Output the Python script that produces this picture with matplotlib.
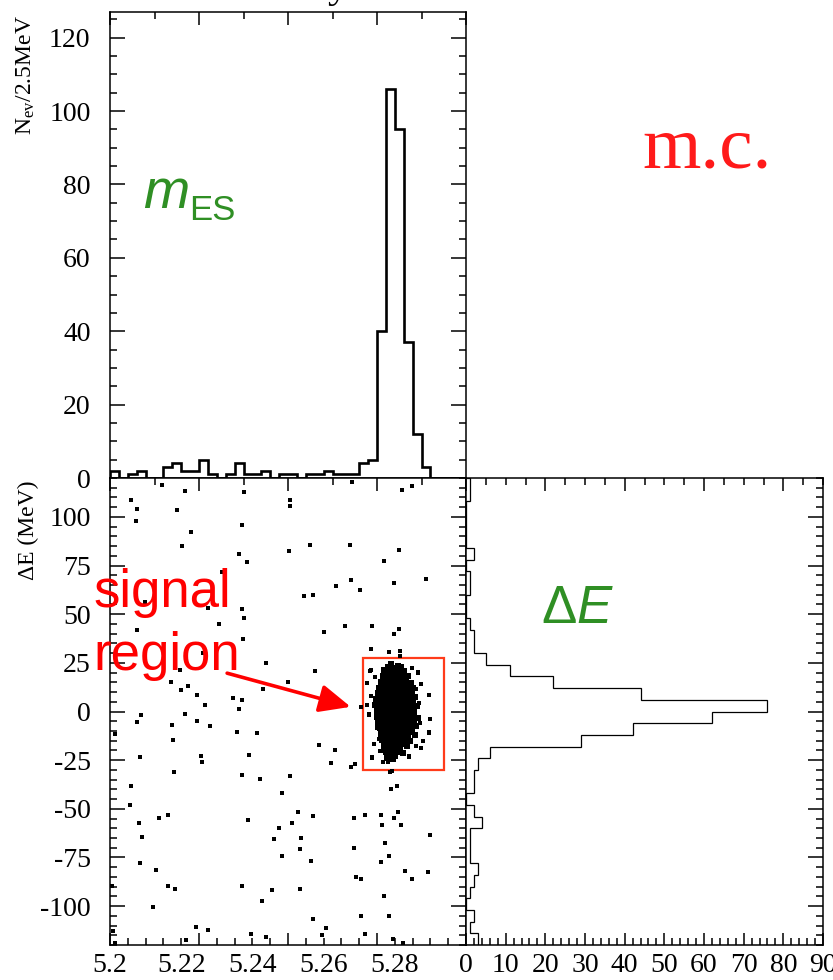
import numpy as np
import matplotlib.pyplot as plt
from matplotlib.ticker import MultipleLocator, FuncFormatter, NullFormatter
from matplotlib.patches import Rectangle

plt.rcParams['font.family'] = ['Liberation Serif', 'DejaVu Serif']
plt.rcParams['axes.unicode_minus'] = False
plt.rcParams['mathtext.fontset'] = 'custom'
plt.rcParams['mathtext.rm'] = 'Liberation Serif'
plt.rcParams['mathtext.sf'] = 'Liberation Sans'
plt.rcParams['mathtext.it'] = 'Liberation Sans:italic'

# mES histogram, 40 bins of 2.5 MeV from 5.20 to 5.30 GeV
mes_edges = np.linspace(5.2, 5.3, 41)
mes_counts = [2, 0, 1, 2, 0, 0, 3, 4, 2, 2, 5, 1, 0, 1, 4, 1, 1, 2, 0, 1,
              1, 0, 1, 1, 2, 1, 1, 1, 4, 5, 40, 106, 95, 37, 12, 3, 0, 0, 0, 0]

# Delta E histogram, 40 bins of 6 MeV from -120 to 120 MeV (bottom to top)
de_edges = np.linspace(-120, 120, 41)
de_counts = [3, 1, 2, 0, 1, 2, 3, 1, 1, 1, 4, 2, 0, 2, 2, 3, 6, 29, 42, 62,
             76, 44, 22, 11, 5, 2, 2, 1, 0, 0, 1, 1, 0, 2, 0, 0, 0, 0, 1, 1]

# scattered (background) events: mES (GeV), Delta E (MeV)
bkg_mes = [5.2147, 5.2212, 5.2377, 5.2681, 5.2847, 5.2819, 5.2058, 5.2077, 5.2187, 5.2507,
           5.2507, 5.2072, 5.2370, 5.2228, 5.2203, 5.2502, 5.2561, 5.2674, 5.2363, 5.2384,
           5.2812, 5.2771, 5.2889, 5.2676, 5.2634, 5.2701, 5.2799, 5.2544, 5.2571, 5.2315,
           5.2098, 5.2274, 5.2370, 5.2377, 5.2305, 5.2077, 5.2661, 5.2735, 5.2602, 5.2797,
           5.2813, 5.2374, 5.2733, 5.2785, 5.2814, 5.2814, 5.2438, 5.2576, 5.2731, 5.2262,
           5.2198, 5.2171, 5.2220, 5.2199, 5.2501, 5.2431, 5.2244, 5.2346, 5.2370, 5.2266,
           5.2706, 5.2722, 5.2727, 5.2087, 5.2211, 5.2362, 5.2075, 5.2175, 5.2245, 5.2280,
           5.2015, 5.2358, 5.2413, 5.2178, 5.2587, 5.2631, 5.2084, 5.2255, 5.2258, 5.2391,
           5.2621, 5.2677, 5.2689, 5.2179, 5.2372, 5.2420, 5.2507, 5.2786, 5.2058, 5.2790,
           5.2806, 5.2482, 5.2056, 5.2137, 5.2164, 5.2081, 5.2389, 5.2528, 5.2569, 5.2685,
           5.2715, 5.2760, 5.2797, 5.2810, 5.2817, 5.2765, 5.2511, 5.2476, 5.2462, 5.2536,
           5.2900, 5.2091, 5.2685, 5.2534, 5.2482, 5.2773, 5.2783, 5.2084, 5.2129, 5.2565,
           5.2761, 5.2162, 5.2182, 5.2370, 5.2456, 5.2533, 5.2692, 5.2706, 5.2828, 5.2847,
           5.2893, 5.2427, 5.2771, 5.2120, 5.2006, 5.2706, 5.2785, 5.2571, 5.2608, 5.2241,
           5.2276, 5.2395, 5.2438, 5.2596, 5.2715, 5.2796, 5.2823, 5.2008, 5.2013, 5.2213,
           5.2737, 5.2766, 5.2780, 5.2759, 5.2839, 5.2874, 5.2897, 5.2900, 5.2897, 5.2866,
           5.2847, 5.2732, 5.2721, 5.2792]
bkg_de = [116.3, 113.4, 112.7, 118.2, 115.8, 113.7, 108.6, 104.1, 103.3, 108.6,
          105.5, 97.8, 95.7, 92.1, 85.1, 82.5, 85.4, 85.8, 80.8, 76.9,
          83.0, 77.2, 68.2, 67.5, 64.6, 62.3, 66.1, 59.4, 60.1, 71.9,
          56.3, 53.3, 52.6, 48.1, 45.2, 41.8, 44.0, 44.0, 40.8, 39.9,
          42.3, 37.3, 32.2, 30.7, 31.0, 28.6, 25.0, 20.7, 20.9, 30.1,
          21.4, 15.2, 13.2, 11.0, 15.2, 11.8, 8.6, 7.0, 5.7, 3.3,
          2.1, 3.4, -1.7, -1.7, -1.2, 1.2, -5.5, -6.7, -5.1, -7.5,
          -11.6, -10.6, -11.1, -14.6, -17.1, -19.7, -23.6, -22.8, -26.2, -22.6,
          -26.5, -28.3, -27.1, -31.2, -32.7, -34.6, -33.0, -31.3, -38.2, -39.9,
          -38.4, -42.0, -47.9, -54.6, -53.3, -57.2, -55.7, -51.5, -53.6, -54.6,
          -53.1, -53.4, -54.6, -51.5, -58.4, -58.4, -57.5, -60.1, -65.4, -65.2,
          -63.4, -64.4, -70.0, -70.9, -74.3, -67.6, -74.3, -77.7, -81.5, -76.9,
          -77.4, -89.6, -91.3, -89.6, -91.8, -91.1, -84.8, -86.0, -82.2, -86.0,
          -82.5, -97.4, -94.9, -100.3, -89.6, -105.3, -105.0, -106.7, -111.3, -111.0,
          -112.3, -114.6, -115.8, -114.9, -114.2, -116.8, -118.8, -112.7, -118.8, -117.5,
          -24.0, -25.7, -26.2, -20.4, -23.3, -18.7, -10.8, -3.9, 8.7, 19.7,
          22.6, 21.2, 14.9, -30.8]

# loose points around the edge of the signal cluster
edge_mes = [5.2727, 5.2899, 5.2895, 5.2866, 5.2874, 5.2859, 5.2878, 5.2840,
            5.2737, 5.2760, 5.2781, 5.2757, 5.2742, 5.2860, 5.2854, 5.2732,
            5.2744, 5.2868, 5.2749, 5.2871]
edge_de = [-1.4, -3.9, -10.4, 20.4, 14.0, 11.5, -15.0, -23.0,
           -23.6, -20.2, -26.2, -13.9, -16.8, -17.6, -12.5, 8.0,
           17.5, 4.5, -8.5, -6.0]

# dense signal cluster inside the box (one line per Delta E row)
sig_mes = [5.2789, 5.2810,
           5.2782, 5.2797, 5.2818,
           5.2771, 5.2790, 5.2804, 5.2826,
           5.2778, 5.2793, 5.2809, 5.2821,
           5.2766, 5.2784, 5.2799, 5.2813, 5.2838,
           5.2772, 5.2789, 5.2803, 5.2818, 5.2831,
           5.2761, 5.2777, 5.2794, 5.2808, 5.2824, 5.2846,
           5.2768, 5.2783, 5.2798, 5.2814, 5.2829,
           5.2757, 5.2772, 5.2788, 5.2803, 5.2819, 5.2834, 5.2852,
           5.2764, 5.2779, 5.2794, 5.2809, 5.2825, 5.2840,
           5.2752, 5.2769, 5.2785, 5.2799, 5.2815, 5.2830, 5.2848,
           5.2760, 5.2775, 5.2790, 5.2805, 5.2820, 5.2836, 5.2857,
           5.2748, 5.2766, 5.2781, 5.2796, 5.2811, 5.2826, 5.2843,
           5.2756, 5.2771, 5.2787, 5.2801, 5.2817, 5.2832, 5.2850,
           5.2745, 5.2762, 5.2778, 5.2792, 5.2807, 5.2822, 5.2838, 5.2862,
           5.2753, 5.2769, 5.2784, 5.2798, 5.2813, 5.2829, 5.2846,
           5.2749, 5.2763, 5.2779, 5.2794, 5.2808, 5.2823, 5.2839, 5.2855,
           5.2756, 5.2772, 5.2787, 5.2801, 5.2816, 5.2832, 5.2849,
           5.2751, 5.2766, 5.2781, 5.2796, 5.2811, 5.2826, 5.2842, 5.2866,
           5.2759, 5.2775, 5.2790, 5.2804, 5.2820, 5.2836, 5.2853,
           5.2754, 5.2769, 5.2785, 5.2799, 5.2814, 5.2830, 5.2845,
           5.2762, 5.2778, 5.2793, 5.2808, 5.2824, 5.2839, 5.2860,
           5.2758, 5.2773, 5.2788, 5.2803, 5.2818, 5.2833, 5.2849,
           5.2766, 5.2782, 5.2797, 5.2812, 5.2827, 5.2842,
           5.2761, 5.2776, 5.2791, 5.2806, 5.2821, 5.2837, 5.2856,
           5.2770, 5.2786, 5.2800, 5.2815, 5.2831,
           5.2764, 5.2780, 5.2795, 5.2810, 5.2826, 5.2844,
           5.2775, 5.2790, 5.2805, 5.2820,
           5.2769, 5.2785, 5.2800, 5.2816, 5.2833,
           5.2779, 5.2795, 5.2811,
           5.2774, 5.2790, 5.2806, 5.2824,
           5.2784, 5.2801,
           5.2778, 5.2795]
sig_de = [24.3, 23.6,
          22.8, 22.1, 22.7,
          21.3, 20.6, 21.2, 20.7,
          19.8, 19.1, 19.7, 19.2,
          18.3, 17.6, 18.2, 17.7, 18.4,
          16.8, 16.1, 16.7, 16.2, 16.9,
          15.3, 14.6, 15.2, 14.7, 15.4, 14.8,
          13.8, 13.1, 13.7, 13.2, 13.9,
          12.3, 11.6, 12.2, 11.7, 12.4, 11.8, 12.1,
          10.8, 10.1, 10.7, 10.2, 10.9, 10.3,
          9.3, 8.6, 9.2, 8.7, 9.4, 8.8, 9.1,
          7.8, 7.1, 7.7, 7.2, 7.9, 7.3, 7.6,
          6.3, 5.6, 6.2, 5.7, 6.4, 5.8, 6.1,
          4.8, 4.1, 4.7, 4.2, 4.9, 4.3, 4.6,
          3.3, 2.6, 3.2, 2.7, 3.4, 2.8, 3.1, 2.7,
          1.8, 1.1, 1.7, 1.2, 1.9, 1.3, 1.6,
          0.3, -0.4, 0.2, -0.3, 0.4, -0.2, 0.1, -0.3,
          -1.2, -1.9, -1.3, -1.8, -1.1, -1.7, -1.4,
          -2.7, -3.4, -2.8, -3.3, -2.6, -3.2, -2.9, -3.3,
          -4.2, -4.9, -4.3, -4.8, -4.1, -4.7, -4.4,
          -5.7, -6.4, -5.8, -6.3, -5.6, -6.2, -5.9,
          -7.2, -7.9, -7.3, -7.8, -7.1, -7.7, -7.4,
          -8.7, -9.4, -8.8, -9.3, -8.6, -9.2, -8.9,
          -10.2, -10.9, -10.3, -10.8, -10.1, -10.7,
          -11.7, -12.4, -11.8, -12.3, -11.6, -12.2, -11.9,
          -13.2, -13.9, -13.3, -13.8, -13.1,
          -14.7, -15.4, -14.8, -15.3, -14.6, -15.2,
          -16.2, -16.9, -16.3, -16.8,
          -17.7, -18.4, -17.8, -18.3, -17.6,
          -19.2, -19.9, -19.3,
          -20.7, -21.4, -20.8, -21.3,
          -22.2, -22.9,
          -23.7, -24.4]

# signal box corners
box_mes = (5.2712, 5.2937)
box_de = (-30.0, 27.4)

green = '#2f8f24'
W, H = 833, 980

fig = plt.figure(figsize=(W / 100, H / 100), dpi=100)
ax_top = fig.add_axes([110 / W, 1 - 478 / H, 356 / W, 466 / H])
ax_sc = fig.add_axes([110 / W, 35 / H, 356 / W, 467 / H])
ax_de = fig.add_axes([466 / W, 35 / H, 357 / W, 467 / H])

for ax in (ax_top, ax_sc, ax_de):
    for s in ax.spines.values():
        s.set_linewidth(1.1)

# top histogram
ax_top.stairs(mes_counts, mes_edges, color='black', lw=1.9)
ax_top.set_xlim(5.2, 5.3)
ax_top.set_ylim(0, 127)
ax_top.xaxis.set_major_locator(MultipleLocator(0.025))
ax_top.xaxis.set_minor_locator(MultipleLocator(0.0125))
ax_top.yaxis.set_major_locator(MultipleLocator(20))
ax_top.yaxis.set_minor_locator(MultipleLocator(5))
ax_top.tick_params(axis='x', which='both', direction='in', top=True, bottom=False,
                   labelbottom=False, width=1.1)
ax_top.tick_params(axis='x', which='major', length=9)
ax_top.tick_params(axis='x', which='minor', length=5)
ax_top.tick_params(axis='y', which='both', direction='in', left=True, right=True,
                   labelsize=20, pad=14, width=1.1)
ax_top.tick_params(axis='y', which='major', length=11)
ax_top.tick_params(axis='y', which='minor', length=5)

# scatter plot
ax_sc.plot(bkg_mes, bkg_de, 's', ms=3.2, color='black', mew=0)
ax_sc.plot(edge_mes, edge_de, 's', ms=3.4, color='black', mew=0)
ax_sc.plot(sig_mes, sig_de, 's', ms=3.7, color='black', mew=0)
ax_sc.add_patch(Rectangle((box_mes[0], box_de[0]), box_mes[1] - box_mes[0],
                          box_de[1] - box_de[0], fill=False, ec='#ff3b1a', lw=1.6))
ax_sc.annotate('', xy=(5.2676, 2.4), xytext=(5.2329, 19.7),
               arrowprops=dict(arrowstyle='-|>,head_length=1.9,head_width=0.85',
                               color='red', lw=2.6, shrinkA=0, shrinkB=0))
ax_sc.set_xlim(5.2, 5.3)
ax_sc.set_ylim(-120, 120)


def mes_fmt(v, pos):
    k = int(round(v * 1000))
    if k % 20 == 0 and k < 5290:
        return f'{round(v, 2):g}'
    return ''


ax_sc.xaxis.set_major_locator(MultipleLocator(0.025))
ax_sc.xaxis.set_minor_locator(MultipleLocator(0.005))
ax_sc.xaxis.set_major_formatter(FuncFormatter(mes_fmt))
ax_sc.xaxis.set_minor_formatter(FuncFormatter(mes_fmt))
ax_sc.tick_params(axis='x', which='both', direction='in', top=False, bottom=True,
                  labelsize=20, pad=6, width=1.1)
ax_sc.tick_params(axis='x', which='major', length=9)
ax_sc.tick_params(axis='x', which='minor', length=5)
ax_sc.yaxis.set_major_locator(MultipleLocator(25))
ax_sc.yaxis.set_minor_locator(MultipleLocator(5))
ax_sc.set_yticks([-100, -75, -50, -25, 0, 25, 50, 75, 100])
ax_sc.tick_params(axis='y', which='both', direction='in', left=True, right=True,
                  labelsize=20, pad=14, width=1.1)
ax_sc.tick_params(axis='y', which='major', length=11)
ax_sc.tick_params(axis='y', which='minor', length=5)
sec = ax_sc.secondary_xaxis('top')
sec.xaxis.set_major_locator(MultipleLocator(0.025))
sec.xaxis.set_minor_locator(MultipleLocator(0.0125))
sec.xaxis.set_major_formatter(NullFormatter())
sec.tick_params(which='both', direction='in', width=1.1)
sec.tick_params(which='major', length=9)
sec.tick_params(which='minor', length=5)
sec.spines['top'].set_visible(False)

# Delta E histogram
ax_de.stairs(de_counts, de_edges, orientation='horizontal', color='black', lw=0.9)
ax_de.set_xlim(0, 90)
ax_de.set_ylim(-120, 120)
ax_de.xaxis.set_major_locator(MultipleLocator(10))
ax_de.xaxis.set_minor_locator(MultipleLocator(2))
ax_de.tick_params(axis='x', which='both', direction='in', top=False, bottom=True,
                  labelsize=20, pad=6, width=1.1)
ax_de.tick_params(axis='x', which='major', length=9)
ax_de.tick_params(axis='x', which='minor', length=5)
ax_de.yaxis.set_major_locator(MultipleLocator(25))
ax_de.yaxis.set_minor_locator(MultipleLocator(5))
ax_de.tick_params(axis='y', which='both', direction='in', left=False, right=True,
                  labelleft=False, width=1.1)
ax_de.tick_params(axis='y', which='major', length=11)
ax_de.tick_params(axis='y', which='minor', length=5)
sec2 = ax_de.secondary_xaxis('top')
sec2.xaxis.set_major_locator(MultipleLocator(20))
sec2.xaxis.set_minor_locator(MultipleLocator(5))
sec2.xaxis.set_major_formatter(NullFormatter())
sec2.tick_params(which='both', direction='in', width=1.1)
sec2.tick_params(which='major', length=9)
sec2.tick_params(which='minor', length=5)
sec2.spines['top'].set_visible(False)

# labels and annotations
fig.text(26 / W, 1 - 15 / H, r'N$_{\rm ev}$/2.5MeV', rotation=90, fontsize=17,
         ha='center', va='top')
fig.text(28 / W, 1 - 480 / H, 'ΔE (MeV)', rotation=90, fontsize=17,
         ha='center', va='top')
fig.text(707 / W, 1 - 167 / H, 'm.c.', color='#ff1a1a', fontsize=54,
         ha='center', va='baseline')
fig.text(143 / W, 1 - 208 / H, 'm', color=green, fontsize=40, style='italic',
         family='Liberation Sans', ha='left', va='baseline')
fig.text(189 / W, 1 - 220 / H, 'ES', color=green, fontsize=25,
         family='Liberation Sans', ha='left', va='baseline')
fig.text(541 / W, 1 - 623 / H, r'$\mathsf{\Delta}E$', color=green, fontsize=38,
         ha='left', va='baseline')
fig.text(93 / W, 1 - 607 / H, 'signal', family='Liberation Sans', color='red',
         fontsize=38, ha='left', va='baseline')
fig.text(93 / W, 1 - 670 / H, 'region', family='Liberation Sans', color='red',
         fontsize=38, ha='left', va='baseline')
fig.text(338 / W, 1 + 3 / H, 'y', fontsize=30, ha='center', va='baseline')

fig.savefig('out.png', dpi=100)
